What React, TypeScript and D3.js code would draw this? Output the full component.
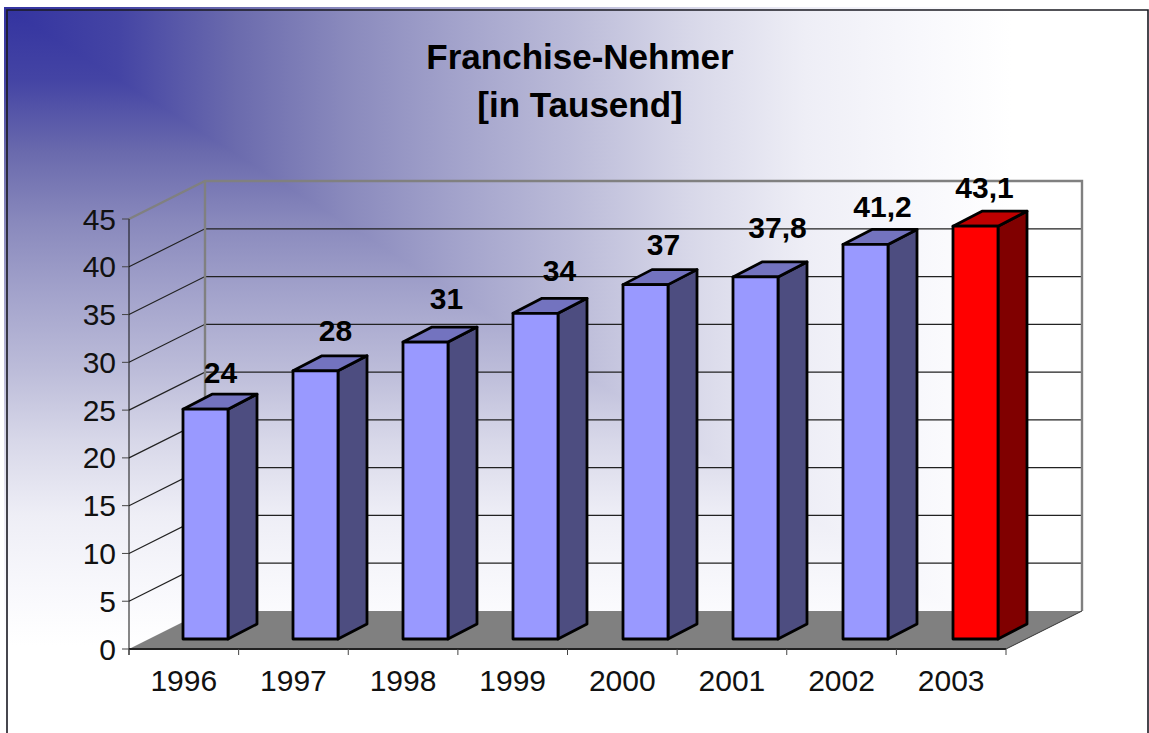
import React from 'react';
import * as d3 from 'd3';

const years = ['1996', '1997', '1998', '1999', '2000', '2001', '2002', '2003'];
const values = [24, 28, 31, 34, 37, 37.8, 41.2, 43.1];
const valueLabels = ['24', '28', '31', '34', '37', '37,8', '41,2', '43,1'];
const yTicks = [0, 5, 10, 15, 20, 25, 30, 35, 40, 45];
const chartTitle = ['Franchise-Nehmer', '[in Tausend]'];

const width = 1149;
const height = 733;
const font = '"Liberation Sans", Arial, sans-serif';

// the plot is a fake 3d box: front edge plus a wall pushed back by depth
const front = { left: 129, right: 1006, bottom: 649, top: 219 };
const depth = { x: 76, y: -38 };
const barDepth = { x: 29, y: -15 };
const barWidth = 45;
const barFloorY = 639;

// labels were dragged by hand in the original, so they need their own nudges
const labelNudge = [
	[15, 4], [20, 0], [21, -3], [24, -2], [18, 0], [22, -9], [17, 3], [9, 2],
];

const polyPath = (pts: number[][]) => {
	const path = d3.path();
	pts.forEach((p, i) => (i ? path.lineTo(p[0], p[1]) : path.moveTo(p[0], p[1])));
	path.closePath();
	return path.toString();
};

const fadeStops = [
	[0, '#3333a0'],
	[0.1, '#4444a4'],
	[0.2, '#6a6aad'],
	[0.3, '#8a8abd'],
	[0.4, '#a4a4cc'],
	[0.5, '#bcbcd9'],
	[0.6, '#d8d8e9'],
	[0.7, '#eeeef6'],
	[0.8, '#f8f8fc'],
	[0.88, '#ffffff'],
];

export default function App() {
	const y = d3.scaleLinear().domain([0, 45]).range([front.bottom, front.top]);
	const xBand = d3.scaleBand().domain(years).range([front.left, front.right]);
	const xBar = d3.scalePoint().domain(years).range([183, 953]);
	const barY = d3.scaleLinear().domain([0, 45]).range([barFloorY, barFloorY - 431]);

	const bars = years.map((year, i) => {
		const left = xBar(year) as number;
		const right = left + barWidth;
		const top = barY(values[i]);
		const isLast = i === years.length - 1;
		return {
			year,
			left,
			right,
			top,
			faceFill: isLast ? '#ff0000' : '#9999ff',
			sideFill: isLast ? '#800000' : '#4d4d80',
			topFill: isLast ? '#bf0000' : '#7373bf',
		};
	});

	const backLeft = front.left + depth.x;
	const backRight = front.right + depth.x;
	const tickEnds = [...years.map(d => xBand(d) as number), front.right];

	return (
		<svg
			width={width}
			height={height}
			style={{ position: 'absolute', left: 0, top: 0, display: 'block' }}
		>
			<defs>
				<linearGradient id="fadeX" gradientUnits="userSpaceOnUse" x1={4} y1={0} x2={width} y2={0}>
					{fadeStops.map(s => (
						<stop key={s[0]} offset={s[0]} stopColor={s[1] as string} />
					))}
				</linearGradient>
				<linearGradient id="fadeY" gradientUnits="userSpaceOnUse" x1={0} y1={7} x2={0} y2={height}>
					{fadeStops.map(s => (
						<stop key={s[0]} offset={s[0]} stopColor={s[1] as string} />
					))}
				</linearGradient>
			</defs>
			<rect width={width} height={height} fill="#fff" />
			{/* corner fade: horizontal over everything, vertical on the lower triangle */}
			<rect x={4} y={7} width={width - 4} height={height - 7} fill="url(#fadeX)" />
			<path d={polyPath([[4, 7], [width, height], [4, height]])} fill="url(#fadeY)" />

			{/* slide frame */}
			<path d={`M7,${height}V10H1148V${height}`} fill="none" stroke="#1a1a22" strokeWidth={1.6} />

			{/* floor */}
			<path
				d={polyPath([
					[front.left, front.bottom],
					[backLeft, front.bottom + depth.y],
					[backRight, front.bottom + depth.y],
					[front.right, front.bottom],
				])}
				fill="#808080"
			/>

			{/* grid on side and back wall */}
			{yTicks.slice(1, -1).map(t => (
				<path
					key={t}
					d={`M${front.left},${y(t)}L${backLeft},${y(t) + depth.y}H${backRight}`}
					fill="none"
					stroke="#222"
					strokeWidth={1.2}
				/>
			))}
			<path
				d={`M${front.left},${y(45)}L${backLeft},${y(45) + depth.y}H${backRight}V${front.bottom + depth.y}`}
				fill="none"
				stroke="#808080"
				strokeWidth={2.4}
			/>
			<path
				d={`M${backLeft},${y(45) + depth.y}V${front.bottom + depth.y}`}
				fill="none"
				stroke="#808080"
				strokeWidth={2.4}
			/>
			<path
				d={`M${front.right},${front.bottom}L${backRight},${front.bottom + depth.y}`}
				fill="none"
				stroke="#333"
				strokeWidth={1}
			/>

			{/* axes */}
			<path d={`M${front.left},${y(45)}V${front.bottom + 6}`} fill="none" stroke="#111" strokeWidth={1} />
			<path d={`M${front.left},${front.bottom}H${front.right}`} fill="none" stroke="#222" strokeWidth={2} />
			{yTicks.map(t => (
				<g key={t}>
					<line x1={front.left - 7} x2={front.left} y1={y(t)} y2={y(t)} stroke="#444" strokeWidth={1} />
					<text
						x={front.left - 13}
						y={y(t) + 10.5}
						textAnchor="end"
						fontFamily={font}
						fontSize={30}
						fill="#111"
					>
						{t}
					</text>
				</g>
			))}
			{tickEnds.map(x => (
				<line key={x} x1={x} x2={x} y1={front.bottom} y2={front.bottom + 6} stroke="#444" strokeWidth={1} />
			))}
			{years.map(year => (
				<text
					key={year}
					x={(xBand(year) as number) + xBand.bandwidth() / 2}
					y={691}
					textAnchor="middle"
					fontFamily={font}
					fontSize={30}
					fill="#111"
				>
					{year}
				</text>
			))}

			{/* bars */}
			{bars.map(b => (
				<g key={b.year} stroke="#000" strokeWidth={2.8} strokeLinejoin="round">
					<path
						d={polyPath([
							[b.right, b.top],
							[b.right + barDepth.x, b.top + barDepth.y],
							[b.right + barDepth.x, barFloorY + barDepth.y],
							[b.right, barFloorY],
						])}
						fill={b.sideFill}
					/>
					<path
						d={polyPath([
							[b.left, b.top],
							[b.left + barDepth.x, b.top + barDepth.y],
							[b.right + barDepth.x, b.top + barDepth.y],
							[b.right, b.top],
						])}
						fill={b.topFill}
					/>
					<rect x={b.left} y={b.top} width={barWidth} height={barFloorY - b.top} fill={b.faceFill} />
				</g>
			))}

			{/* value labels */}
			{bars.map((b, i) => (
				<text
					key={b.year}
					x={(b.left + b.right) / 2 + labelNudge[i][0]}
					y={b.top - 30 + labelNudge[i][1]}
					textAnchor="middle"
					fontFamily={font}
					fontWeight="bold"
					fontSize={30}
					fill="#000"
				>
					{valueLabels[i]}
				</text>
			))}

			{/* title */}
			{chartTitle.map((line, i) => (
				<text
					key={line}
					x={580}
					y={69 + i * 48}
					textAnchor="middle"
					fontFamily={font}
					fontWeight="bold"
					fontSize={35}
					fill="#000"
				>
					{line}
				</text>
			))}
		</svg>
	);
}
